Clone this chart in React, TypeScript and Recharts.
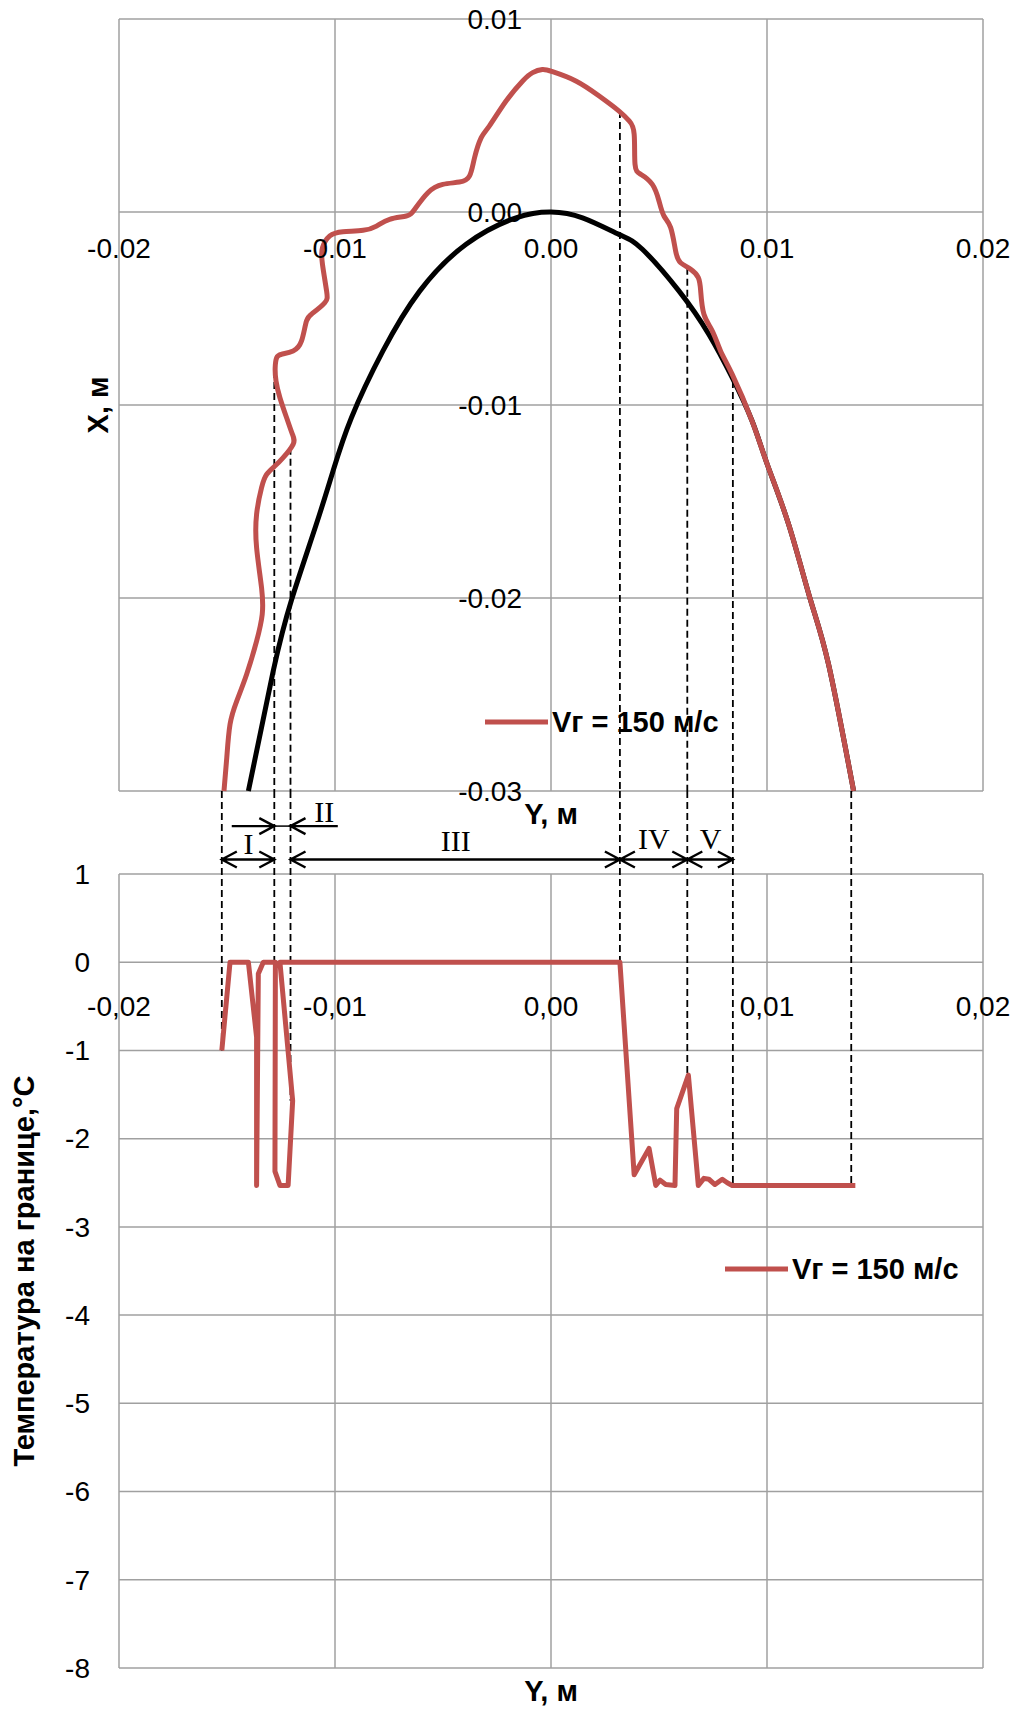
import React from "react";
import {
  ComposedChart,
  Line,
  XAxis,
  YAxis,
  CartesianGrid,
  ReferenceLine,
  ReferenceDot,
  Legend,
} from "recharts";

const FONT = "'Liberation Sans', Arial, sans-serif";
const SERIF = "'Liberation Serif', 'Times New Roman', serif";
const RED = "#C0504D";
const GRID = "#A0A0A0";

// horizontal axis of both charts: Y, м
const yTicks = [-0.02, -0.01, 0, 0.01, 0.02];
// top chart vertical axis: X, м
const xTicks = [-0.03, -0.02, -0.01, 0, 0.01];
// bottom chart vertical axis: temperature
const tTicks = [-8, -7, -6, -5, -4, -3, -2, -1, 0, 1];

// initial profile (black)
const baseY = [
  -0.01401, -0.01286, -0.01201, -0.0109, -0.01009, -0.00924, -0.00778, -0.00608,
  -0.00393, -0.00162, 0, 0.00146, 0.00315, 0.00423, 0.00593, 0.00731, 0.00839,
  0.00931, 0.01001, 0.011, 0.01201, 0.01285, 0.01401,
];
const baseX = [
  -0.03, -0.02378, -0.02009, -0.0163, -0.01342, -0.01066, -0.0072, -0.0041,
  -0.00167, -0.0003, 0, -0.0003, -0.00116, -0.00193, -0.0041, -0.00634, -0.00858,
  -0.01083, -0.01307, -0.01618, -0.02009, -0.02344, -0.03,
];

// ice profile, Vг = 150 м/с (red)
const iceY = [
  -0.01514, -0.01501, -0.01486, -0.01455, -0.01409, -0.01363, -0.01337, -0.0134,
  -0.01363, -0.01363, -0.0134, -0.01316, -0.01278, -0.0124, -0.01194, -0.01197,
  -0.01224, -0.01255, -0.01273, -0.01277, -0.0127, -0.01247, -0.01194, -0.01155,
  -0.01132, -0.01101, -0.01047, -0.01039, -0.01058, -0.01058, -0.01024, -0.00963,
  -0.0087, -0.00808, -0.00747, -0.0067, -0.00631, -0.0057, -0.00501, -0.00424,
  -0.00377, -0.00354, -0.00323, -0.00285, -0.00208, -0.00131, -0.00085, -0.0004,
  0.00007, 0.00115, 0.00223, 0.00315, 0.00362, 0.00385, 0.00389, 0.00416, 0.00469,
  0.005, 0.00523, 0.00554, 0.00577, 0.006, 0.00647, 0.00682, 0.00693, 0.00708,
  0.00747, 0.00785, 0.00839, 0.00931, 0.01001, 0.011, 0.01201, 0.01285, 0.01401,
];
const iceX = [
  -0.03, -0.02827, -0.02655, -0.02534, -0.02395, -0.02223, -0.02085, -0.01947,
  -0.01739, -0.01566, -0.01428, -0.01359, -0.01316, -0.01273, -0.01204, -0.01152,
  -0.01066, -0.00962, -0.00876, -0.00807, -0.00755, -0.00737, -0.0072, -0.00668,
  -0.00565, -0.00522, -0.0047, -0.00409, -0.00271, -0.00185, -0.00124, -0.00102,
  -0.00095, -0.00073, -0.00038, -0.00021, 0.00014, 0.001, 0.00143, 0.00155,
  0.00187, 0.00281, 0.00385, 0.00446, 0.00575, 0.00679, 0.00722, 0.00738,
  0.00727, 0.00679, 0.00601, 0.00523, 0.00472, 0.00403, 0.00247, 0.00195, 0.00143,
  0.00057, -0.00021, -0.00081, -0.00202, -0.00263, -0.00297, -0.0034, -0.00409, -0.0053,
  -0.00617, -0.0072, -0.00841, -0.01083, -0.01307, -0.01618, -0.02009, -0.02344, -0.03,
];

// boundary temperature, Vг = 150 м/с
const tempY = [
  -0.01524, -0.01486, -0.01401, -0.01363, -0.01363, -0.01355, -0.01332, -0.01276,
  -0.01278, -0.01255, -0.01217, -0.01196, -0.01255, 0.00319, 0.00385, 0.00454,
  0.00485, 0.00505, 0.00531, 0.00574, 0.00582, 0.00636, 0.00682, 0.00708, 0.00731,
  0.00759, 0.00793, 0.00816, 0.00839, 0.01409,
];
const tempT = [
  -1.0, 0, 0, -0.85, -2.53, -0.13, 0, 0, -2.37, -2.53, -2.53, -1.57, 0, 0, -2.41,
  -2.11, -2.53, -2.47, -2.52, -2.53, -1.66, -1.28, -2.53, -2.45, -2.46, -2.52, -2.46,
  -2.5, -2.53, -2.53,
];

// zone borders (dashed): Y position, start on the top profile, end on the temperature line
const borderY = [-0.01524, -0.01281, -0.01206, 0.00319, 0.00631, 0.00842, 0.0139];
const borderTopX = [null, -0.00824, -0.01221, 0.00523, -0.00289, -0.00876, null];
const borderEndT = [-1.0, 0, -1.57, 0, -1.28, -2.53, -2.53];

// zone arrows and labels
const zoneFrom = [-0.01524, -0.01206, 0.00319, 0.00631];
const zoneTo = [-0.01281, 0.00319, 0.00631, 0.00842];
const pointerFrom = [-0.01478, -0.00987];
const pointerTo = [-0.01281, -0.01206];
const zoneNames = ["I", "II", "III", "IV", "V"];
const zoneLabelY = [-0.014, -0.0105, -0.00441, 0.00476, 0.00739];
const zoneLabelT = [1.335, 1.7, 1.37, 1.39, 1.39];

const ROW_LOW = 1.165;
const ROW_HIGH = 1.543;
const GAP_T = 1.94;

const baseData = baseY.map((y, i) => ({ y, x: baseX[i] }));
const iceData = iceY.map((y, i) => ({ y, x: iceX[i] }));
const tempData = tempY.map((y, i) => ({ y, t: tempT[i] }));

function Arrow({ x1, y1, x2, y2, heads }: any) {
  const len = Math.hypot(x2 - x1, y2 - y1) || 1;
  const ux = (x2 - x1) / len;
  const uy = (y2 - y1) / len;
  const head = (x: number, y: number, dx: number, dy: number) =>
    `M${x - dx * 15 - dy * 8},${y - dy * 15 + dx * 8}L${x},${y}L${x - dx * 15 + dy * 8},${y - dy * 15 - dx * 8}`;
  let d = `M${x1},${y1}L${x2},${y2}`;
  if (heads === "end" || heads === "both") d += head(x2, y2, ux, uy);
  if (heads === "both") d += head(x1, y1, -ux, -uy);
  return <path d={d} stroke="#000" strokeWidth={2.4} fill="none" />;
}

const TopXTick = ({ x, y, payload }: any) => (
  <text x={x} y={y - 543} dy="0.35em" textAnchor="middle" fontFamily={FONT} fontSize={28} fill="#000">
    {Number(payload.value).toFixed(2)}
  </text>
);

const TopYTick = ({ x, y, payload }: any) => (
  <text x={x + 403} y={y} dy="0.35em" textAnchor="end" fontFamily={FONT} fontSize={28} fill="#000">
    {Number(payload.value).toFixed(2)}
  </text>
);

const BottomXTick = ({ x, y, payload }: any) => (
  <text x={x} y={y - 662} dy="0.35em" textAnchor="middle" fontFamily={FONT} fontSize={28} fill="#000">
    {Number(payload.value).toFixed(2).replace(".", ",")}
  </text>
);

const BottomYTick = ({ x, y, payload }: any) => (
  <text x={x - 29} y={y} dy="0.35em" textAnchor="end" fontFamily={FONT} fontSize={28} fill="#000">
    {payload.value}
  </text>
);

const xTitle = (text: string) => ({ viewBox }: any) => (
  <text
    x={viewBox.x + viewBox.width / 2}
    y={viewBox.y + 23}
    dy="0.35em"
    textAnchor="middle"
    fontFamily={FONT}
    fontWeight="bold"
    fontSize={29}
    fill="#000"
  >
    {text}
  </text>
);

const yTitle = (text: string, shift: number) => ({ viewBox }: any) => {
  const cx = viewBox.x + viewBox.width - shift;
  const cy = viewBox.y + viewBox.height / 2;
  return (
    <text
      transform={`translate(${cx},${cy}) rotate(-90)`}
      dy="0.35em"
      textAnchor="middle"
      fontFamily={FONT}
      fontWeight="bold"
      fontSize={29}
      fill="#000"
    >
      {text}
    </text>
  );
};

// only the named red series goes into the legend
const LegendBox = ({ payload }: any) => (
  <div>
    {(payload || [])
      .filter((p: any) => p.type !== "none" && p.color === RED)
      .map((p: any) => (
        <div key={p.value} style={{ display: "flex", alignItems: "center", height: 36 }}>
          <svg width={63} height={8}>
            <line x1={0} y1={4} x2={63} y2={4} stroke={p.color} strokeWidth={5} />
          </svg>
          <span style={{ marginLeft: 4, fontFamily: FONT, fontWeight: 700, fontSize: 29, color: "#000" }}>
            {p.value}
          </span>
        </div>
      ))}
  </div>
);

const dashed = { stroke: "#000", strokeWidth: 1.8, strokeDasharray: "7 4" };

function TopChart() {
  return (
    <ComposedChart width={1018} height={840} margin={{ top: 19, right: 35, left: 109, bottom: 40 }}>
      <CartesianGrid stroke={GRID} strokeWidth={1.5} />
      <XAxis
        dataKey="y"
        type="number"
        domain={[-0.02, 0.02]}
        ticks={yTicks}
        interval={0}
        height={9}
        tickSize={0}
        tickMargin={0}
        axisLine={false}
        tick={TopXTick}
        label={{ content: xTitle("Y, м") }}
      />
      <YAxis
        type="number"
        domain={[-0.03, 0.01]}
        ticks={xTicks}
        interval={0}
        width={10}
        tickSize={0}
        tickMargin={0}
        axisLine={false}
        tick={TopYTick}
        label={{ content: yTitle("X, м", 21) }}
      />
      {borderY.map((y, i) =>
        borderTopX[i] === null ? null : (
          <ReferenceLine
            key={`b${i}`}
            segment={[{ x: y, y: borderTopX[i] as number }, { x: y, y: -0.03 }]}
            ifOverflow="visible"
            {...dashed}
          />
        )
      )}
      <Line data={baseData} dataKey="x" type="natural" stroke="#000" strokeWidth={5} dot={false} activeDot={false} legendType="none" isAnimationActive={false} />
      <Line data={iceData} dataKey="x" name="Vг = 150 м/с" type="natural" stroke={RED} strokeWidth={5} strokeLinejoin="round" dot={false} activeDot={false} isAnimationActive={false} />
      <Legend
        layout="vertical"
        align="center"
        verticalAlign="middle"
        content={LegendBox}
        wrapperStyle={{ left: 485, top: 704, width: 320 }}
      />
    </ComposedChart>
  );
}

function BottomChart() {
  return (
    <ComposedChart width={1018} height={919} margin={{ top: 83, right: 35, left: 109, bottom: 33 }}>
      <CartesianGrid stroke={GRID} strokeWidth={1.5} />
      <XAxis
        dataKey="y"
        type="number"
        domain={[-0.02, 0.02]}
        ticks={yTicks}
        interval={0}
        height={9}
        tickSize={0}
        tickMargin={0}
        axisLine={false}
        tick={BottomXTick}
        label={{ content: xTitle("Y, м") }}
      />
      <YAxis
        type="number"
        domain={[-8, 1]}
        ticks={tTicks}
        interval={0}
        width={10}
        tickSize={0}
        tickMargin={0}
        axisLine={false}
        tick={BottomYTick}
        label={{ content: yTitle("Температура на границе,°C", 95) }}
      />
      {borderY.map((y, i) => (
        <ReferenceLine
          key={`d${i}`}
          segment={[{ x: y, y: GAP_T }, { x: y, y: borderEndT[i] }]}
          ifOverflow="visible"
          {...dashed}
        />
      ))}
      {zoneFrom.map((a, i) => (
        <ReferenceLine
          key={`z${i}`}
          segment={[{ x: a, y: ROW_LOW }, { x: zoneTo[i], y: ROW_LOW }]}
          ifOverflow="visible"
          shape={(p: any) => <Arrow {...p} heads="both" />}
        />
      ))}
      {pointerFrom.map((a, i) => (
        <ReferenceLine
          key={`p${i}`}
          segment={[{ x: a, y: ROW_HIGH }, { x: pointerTo[i], y: ROW_HIGH }]}
          ifOverflow="visible"
          shape={(p: any) => <Arrow {...p} heads="end" />}
        />
      ))}
      <ReferenceLine
        segment={[{ x: pointerTo[0], y: ROW_HIGH }, { x: pointerTo[1], y: ROW_HIGH }]}
        ifOverflow="visible"
        stroke="#000"
        strokeWidth={1.5}
      />
      {zoneNames.map((n, i) => (
        <ReferenceDot
          key={`n${i}`}
          x={zoneLabelY[i]}
          y={zoneLabelT[i]}
          r={0}
          ifOverflow="visible"
          shape={(p: any) => (
            <text x={p.cx} y={p.cy} dy="0.33em" textAnchor="middle" fontFamily={SERIF} fontSize={30} fill="#000">
              {n}
            </text>
          )}
        />
      ))}
      <Line
        data={tempData}
        dataKey="t"
        name="Vг = 150 м/с"
        type="linear"
        stroke={RED}
        strokeWidth={5}
        strokeLinejoin="round"
        dot={false}
        activeDot={false}
        isAnimationActive={false}
      />
      <Legend
        layout="vertical"
        align="center"
        verticalAlign="middle"
        content={LegendBox}
        wrapperStyle={{ left: 725, top: 460, width: 320 }}
      />
    </ComposedChart>
  );
}

export default function App() {
  return (
    <div style={{ position: "absolute", left: 0, top: 0, width: 1018, height: 1710, background: "#fff" }}>
      <div style={{ position: "absolute", left: 0, top: 0 }}>
        <TopChart />
      </div>
      <div style={{ position: "absolute", left: 0, top: 791 }}>
        <BottomChart />
      </div>
    </div>
  );
}
